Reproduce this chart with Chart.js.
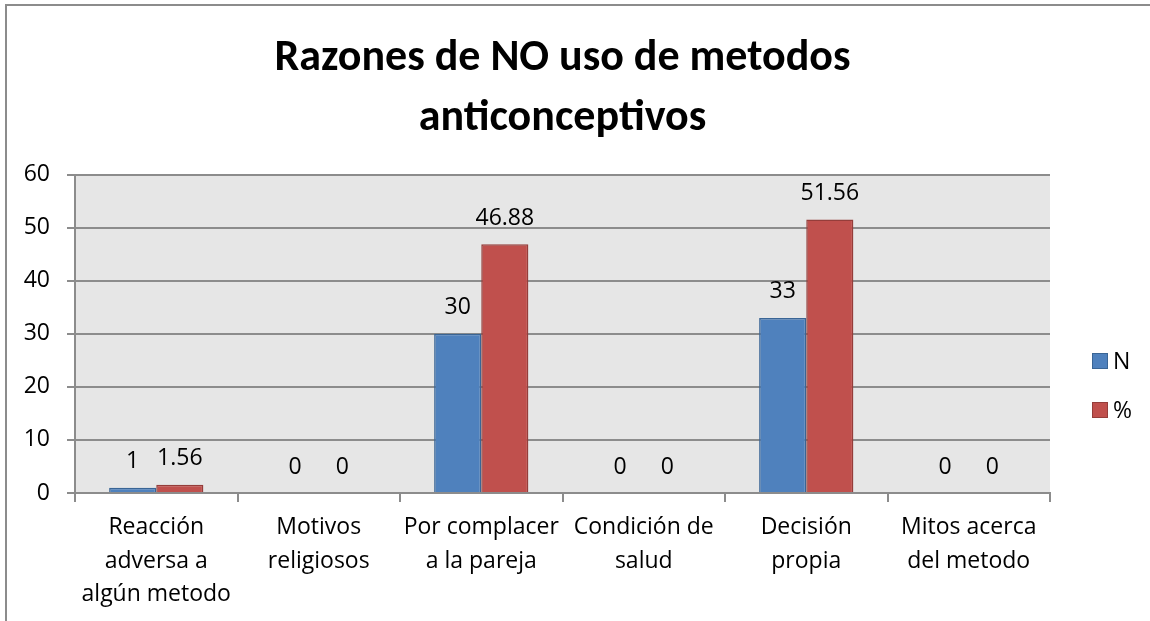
<!DOCTYPE html>
<html>
<head>
<meta charset="utf-8">
<script src="https://cdn.jsdelivr.net/npm/chart.js@4"></script>
<style>
  html, body { margin: 0; padding: 0; background: #fff; }
  #wrap { position: relative; width: 1150px; height: 621px; }
</style>
</head>
<body>
<div id="wrap"><canvas id="c" width="1150" height="621"></canvas></div>
<script>
// Razones de NO uso de metodos anticonceptivos — grouped bars N / %

const categories = [
  ['Reacción', 'adversa a', 'algún metodo'],
  ['Motivos', 'religiosos'],
  ['Por complacer', 'a la pareja'],
  ['Condición de', 'salud'],
  ['Decisión', 'propia'],
  ['Mitos acerca', 'del metodo'],
];
const nValues   = [1, 0, 30, 0, 33, 0];
const pctValues = [1.56, 0, 46.88, 0, 51.56, 0];
const seriesNames = ['N', '%'];
const yMin = 0, yMax = 60, yStep = 10;

const FONT = '"Open Sans", "Noto Sans", sans-serif';
const TITLE_FONT = 'Carlito, Calibri, Lato, sans-serif';

// frame + grey plot background
const backdrop = {
  id: 'backdrop',
  beforeDraw(chart) {
    const { ctx, chartArea: a } = chart;
    ctx.save();
    ctx.fillStyle = '#e6e6e6';
    ctx.fillRect(a.left, a.top, a.right - a.left, a.bottom - a.top);
    ctx.strokeStyle = '#8c8c8c';
    ctx.lineWidth = 2;
    ctx.beginPath();
    ctx.moveTo(6, 621); ctx.lineTo(6, 5); ctx.lineTo(1150, 5);
    ctx.stroke();
    ctx.restore();
  },
};

// value labels above bars + legend on the right
const labels = {
  id: 'labels',
  afterDatasetsDraw(chart) {
    const { ctx } = chart;
    ctx.save();
    ctx.font = '23px ' + FONT;
    ctx.fillStyle = '#000';
    ctx.textAlign = 'center';
    ctx.textBaseline = 'middle';
    chart.data.datasets.forEach((ds, i) => {
      chart.getDatasetMeta(i).data.forEach((bar, j) => {
        ctx.fillText(String(ds.data[j]), bar.x, bar.y - 26);
      });
    });
    // legend
    const lx = 1092, ly = [361, 410];
    chart.data.datasets.forEach((ds, i) => {
      ctx.fillStyle = ds.backgroundColor;
      ctx.fillRect(lx, ly[i] - 8, 16, 16);
      ctx.strokeStyle = ds.borderColor;
      ctx.lineWidth = 1;
      ctx.strokeRect(lx + 0.5, ly[i] - 7.5, 15, 15);
      ctx.fillStyle = '#000';
      ctx.textAlign = 'left';
      ctx.fillText(ds.label, lx + 21, ly[i] + 1);
    });
    ctx.restore();
  },
};

new Chart(document.getElementById('c'), {
  type: 'bar',
  data: {
    labels: categories,
    datasets: [
      { label: seriesNames[0], data: nValues, backgroundColor: '#4f81bd',
        borderColor: '#3a6595', borderWidth: 1.5 },
      { label: seriesNames[1], data: pctValues, backgroundColor: '#c0504d',
        borderColor: '#953d3a', borderWidth: 1.5 },
    ],
  },
  options: {
    responsive: false,
    animation: false,
    devicePixelRatio: 1,
    datasets: { bar: { categoryPercentage: 0.58, barPercentage: 1 } },
    layout: { padding: { left: 0, right: 100, top: 0, bottom: 0 } },
    plugins: {
      legend: { display: false },
      tooltip: { enabled: false },
      title: {
        display: true,
        fullSize: false,
        text: ['Razones de NO uso de metodos', 'anticonceptivos'],
        color: '#000',
        font: { family: TITLE_FONT, size: 44, weight: 'bold', lineHeight: 1.36 },
        padding: { top: 29, bottom: 26 },
      },
    },
    scales: {
      x: {
        grid: { display: true, drawOnChartArea: false, drawTicks: true, tickLength: 9,
                color: '#8c8c8c', lineWidth: 2, offset: true },
        border: { color: '#8c8c8c', width: 2 },
        ticks: { color: '#000', font: { family: FONT, size: 23, lineHeight: 1.45 },
                 padding: 9, maxRotation: 0, autoSkip: false },
        afterFit(s) { s.height = 128; },
      },
      y: {
        min: yMin, max: yMax,
        grid: { color: '#8c8c8c', lineWidth: 2, tickLength: 8 },
        border: { color: '#8c8c8c', width: 2 },
        ticks: { stepSize: yStep, color: '#000', font: { family: FONT, size: 23 }, padding: 17 },
        afterFit(s) { s.width = 75; },
      },
    },
  },
  plugins: [backdrop, labels],
});
</script>
</body>
</html>
